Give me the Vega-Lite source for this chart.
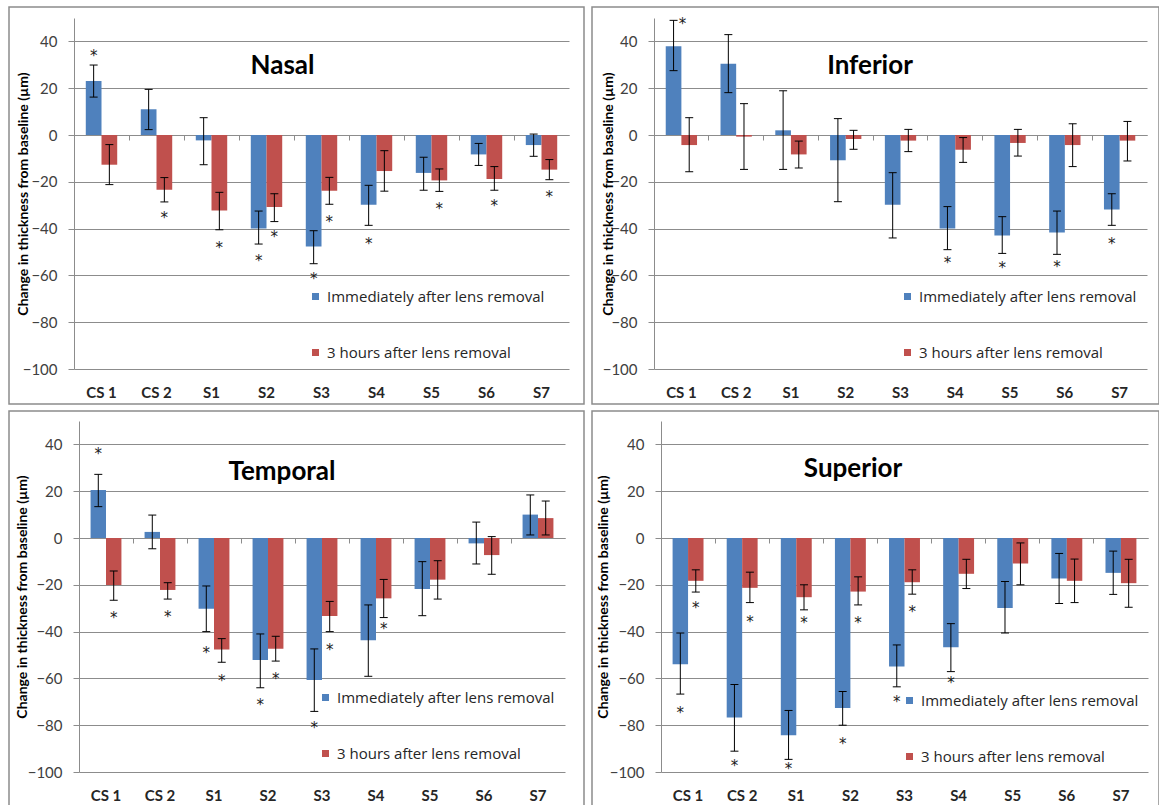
{
  "$schema": "https://vega.github.io/schema/vega-lite/v6.json",
  "padding": {"left": 8, "top": 6, "right": 0, "bottom": 0},
  "background": "white",
  "config": {
    "view": {"stroke": "#8c8c8c", "strokeWidth": 1.5},
    "font": "Lato"
  },
  "datasets": {
    "d": [
      {"region":"Nasal","cat":"CS 1","series":"Immediately after lens removal","value":23.1,"lo":16.2,"hi":29.9,"star":34.8},
      {"region":"Nasal","cat":"CS 1","series":"3 hours after lens removal","value":-12.7,"lo":-21.2,"hi":-4.1,"star":null},
      {"region":"Nasal","cat":"CS 2","series":"Immediately after lens removal","value":11.0,"lo":2.3,"hi":19.5,"star":null},
      {"region":"Nasal","cat":"CS 2","series":"3 hours after lens removal","value":-23.4,"lo":-28.6,"hi":-18.2,"star":-34.8},
      {"region":"Nasal","cat":"S1","series":"Immediately after lens removal","value":-2.3,"lo":-12.7,"hi":7.4,"star":null},
      {"region":"Nasal","cat":"S1","series":"3 hours after lens removal","value":-32.3,"lo":-40.5,"hi":-24.5,"star":-47.4},
      {"region":"Nasal","cat":"S2","series":"Immediately after lens removal","value":-40.0,"lo":-46.6,"hi":-32.5,"star":-53.1},
      {"region":"Nasal","cat":"S2","series":"3 hours after lens removal","value":-30.8,"lo":-37.0,"hi":-25.1,"star":-42.6},
      {"region":"Nasal","cat":"S3","series":"Immediately after lens removal","value":-47.7,"lo":-55.0,"hi":-40.9,"star":-60.5},
      {"region":"Nasal","cat":"S3","series":"3 hours after lens removal","value":-23.8,"lo":-29.6,"hi":-18.1,"star":-36.5},
      {"region":"Nasal","cat":"S4","series":"Immediately after lens removal","value":-29.8,"lo":-38.6,"hi":-21.5,"star":-45.9},
      {"region":"Nasal","cat":"S4","series":"3 hours after lens removal","value":-15.4,"lo":-24.0,"hi":-6.7,"star":null},
      {"region":"Nasal","cat":"S5","series":"Immediately after lens removal","value":-16.2,"lo":-23.6,"hi":-9.5,"star":null},
      {"region":"Nasal","cat":"S5","series":"3 hours after lens removal","value":-19.4,"lo":-24.1,"hi":-14.5,"star":-30.9},
      {"region":"Nasal","cat":"S6","series":"Immediately after lens removal","value":-8.3,"lo":-13.0,"hi":-3.6,"star":null},
      {"region":"Nasal","cat":"S6","series":"3 hours after lens removal","value":-18.8,"lo":-23.6,"hi":-13.5,"star":-29.3},
      {"region":"Nasal","cat":"S7","series":"Immediately after lens removal","value":-4.3,"lo":-9.1,"hi":0.4,"star":null},
      {"region":"Nasal","cat":"S7","series":"3 hours after lens removal","value":-14.8,"lo":-19.1,"hi":-10.5,"star":-25.8},

      {"region":"Inferior","cat":"CS 1","series":"Immediately after lens removal","value":37.9,"lo":27.5,"hi":49.0,"star":null,"starR":48.5},
      {"region":"Inferior","cat":"CS 1","series":"3 hours after lens removal","value":-4.3,"lo":-15.7,"hi":7.4,"star":null},
      {"region":"Inferior","cat":"CS 2","series":"Immediately after lens removal","value":30.5,"lo":18.1,"hi":42.9,"star":null},
      {"region":"Inferior","cat":"CS 2","series":"3 hours after lens removal","value":-0.7,"lo":-14.7,"hi":13.4,"star":null},
      {"region":"Inferior","cat":"S1","series":"Immediately after lens removal","value":2.0,"lo":-14.7,"hi":18.9,"star":null},
      {"region":"Inferior","cat":"S1","series":"3 hours after lens removal","value":-8.3,"lo":-14.1,"hi":-2.6,"star":null},
      {"region":"Inferior","cat":"S2","series":"Immediately after lens removal","value":-10.8,"lo":-28.5,"hi":7.0,"star":null},
      {"region":"Inferior","cat":"S2","series":"3 hours after lens removal","value":-1.7,"lo":-6.1,"hi":2.0,"star":null},
      {"region":"Inferior","cat":"S3","series":"Immediately after lens removal","value":-29.8,"lo":-44.0,"hi":-16.1,"star":null},
      {"region":"Inferior","cat":"S3","series":"3 hours after lens removal","value":-2.4,"lo":-7.1,"hi":2.4,"star":null},
      {"region":"Inferior","cat":"S4","series":"Immediately after lens removal","value":-40.0,"lo":-49.0,"hi":-30.6,"star":-53.8},
      {"region":"Inferior","cat":"S4","series":"3 hours after lens removal","value":-6.3,"lo":-11.7,"hi":-1.1,"star":null},
      {"region":"Inferior","cat":"S5","series":"Immediately after lens removal","value":-42.9,"lo":-50.6,"hi":-34.9,"star":-56.0},
      {"region":"Inferior","cat":"S5","series":"3 hours after lens removal","value":-3.4,"lo":-9.0,"hi":2.4,"star":null},
      {"region":"Inferior","cat":"S6","series":"Immediately after lens removal","value":-41.7,"lo":-51.0,"hi":-32.5,"star":-55.6},
      {"region":"Inferior","cat":"S6","series":"3 hours after lens removal","value":-4.3,"lo":-13.5,"hi":4.8,"star":null},
      {"region":"Inferior","cat":"S7","series":"Immediately after lens removal","value":-31.8,"lo":-38.6,"hi":-25.1,"star":-45.6},
      {"region":"Inferior","cat":"S7","series":"3 hours after lens removal","value":-2.4,"lo":-11.1,"hi":5.8,"star":null},

      {"region":"Temporal","cat":"CS 1","series":"Immediately after lens removal","value":20.5,"lo":13.4,"hi":27.2,"star":36.9},
      {"region":"Temporal","cat":"CS 1","series":"3 hours after lens removal","value":-20.1,"lo":-26.6,"hi":-14.1,"star":-33.3},
      {"region":"Temporal","cat":"CS 2","series":"Immediately after lens removal","value":2.6,"lo":-4.6,"hi":9.8,"star":null},
      {"region":"Temporal","cat":"CS 2","series":"3 hours after lens removal","value":-22.2,"lo":-26.1,"hi":-19.1,"star":-32.8},
      {"region":"Temporal","cat":"S1","series":"Immediately after lens removal","value":-30.2,"lo":-40.0,"hi":-20.5,"star":-48.3},
      {"region":"Temporal","cat":"S1","series":"3 hours after lens removal","value":-47.7,"lo":-53.1,"hi":-43.0,"star":-60.1},
      {"region":"Temporal","cat":"S2","series":"Immediately after lens removal","value":-52.1,"lo":-64.0,"hi":-41.0,"star":-70.7},
      {"region":"Temporal","cat":"S2","series":"3 hours after lens removal","value":-47.3,"lo":-52.6,"hi":-42.0,"star":-59.3},
      {"region":"Temporal","cat":"S3","series":"Immediately after lens removal","value":-60.7,"lo":-74.1,"hi":-47.4,"star":-80.3},
      {"region":"Temporal","cat":"S3","series":"3 hours after lens removal","value":-33.3,"lo":-40.0,"hi":-27.1,"star":-46.9},
      {"region":"Temporal","cat":"S4","series":"Immediately after lens removal","value":-43.7,"lo":-59.1,"hi":-28.6,"star":null},
      {"region":"Temporal","cat":"S4","series":"3 hours after lens removal","value":-25.8,"lo":-34.0,"hi":-17.7,"star":-37.9},
      {"region":"Temporal","cat":"S5","series":"Immediately after lens removal","value":-21.8,"lo":-33.2,"hi":-10.1,"star":null},
      {"region":"Temporal","cat":"S5","series":"3 hours after lens removal","value":-17.8,"lo":-26.1,"hi":-9.7,"star":null},
      {"region":"Temporal","cat":"S6","series":"Immediately after lens removal","value":-2.3,"lo":-11.1,"hi":6.8,"star":null},
      {"region":"Temporal","cat":"S6","series":"3 hours after lens removal","value":-7.3,"lo":-15.5,"hi":0.6,"star":null},
      {"region":"Temporal","cat":"S7","series":"Immediately after lens removal","value":10.0,"lo":1.3,"hi":18.4,"star":null},
      {"region":"Temporal","cat":"S7","series":"3 hours after lens removal","value":8.5,"lo":1.3,"hi":15.8,"star":null},

      {"region":"Superior","cat":"CS 1","series":"Immediately after lens removal","value":-53.9,"lo":-66.7,"hi":-40.6,"star":-73.9},
      {"region":"Superior","cat":"CS 1","series":"3 hours after lens removal","value":-18.3,"lo":-23.1,"hi":-13.6,"star":-29.1},
      {"region":"Superior","cat":"CS 2","series":"Immediately after lens removal","value":-76.7,"lo":-91.1,"hi":-62.6,"star":-96.7},
      {"region":"Superior","cat":"CS 2","series":"3 hours after lens removal","value":-21.3,"lo":-27.6,"hi":-14.6,"star":-34.9},
      {"region":"Superior","cat":"S1","series":"Immediately after lens removal","value":-84.3,"lo":-94.6,"hi":-73.7,"star":-97.9},
      {"region":"Superior","cat":"S1","series":"3 hours after lens removal","value":-25.3,"lo":-30.7,"hi":-20.0,"star":-35.3},
      {"region":"Superior","cat":"S2","series":"Immediately after lens removal","value":-72.7,"lo":-80.0,"hi":-65.6,"star":-87.0},
      {"region":"Superior","cat":"S2","series":"3 hours after lens removal","value":-22.9,"lo":-28.6,"hi":-16.6,"star":-35.3},
      {"region":"Superior","cat":"S3","series":"Immediately after lens removal","value":-54.9,"lo":-63.6,"hi":-45.7,"star":-69.1},
      {"region":"Superior","cat":"S3","series":"3 hours after lens removal","value":-18.9,"lo":-24.0,"hi":-13.6,"star":-30.7},
      {"region":"Superior","cat":"S4","series":"Immediately after lens removal","value":-46.7,"lo":-57.1,"hi":-36.6,"star":-61.3},
      {"region":"Superior","cat":"S4","series":"3 hours after lens removal","value":-15.3,"lo":-21.6,"hi":-9.1,"star":null},
      {"region":"Superior","cat":"S5","series":"Immediately after lens removal","value":-29.9,"lo":-40.6,"hi":-18.6,"star":null},
      {"region":"Superior","cat":"S5","series":"3 hours after lens removal","value":-10.9,"lo":-20.0,"hi":-2.1,"star":null},
      {"region":"Superior","cat":"S6","series":"Immediately after lens removal","value":-17.3,"lo":-28.0,"hi":-6.6,"star":null},
      {"region":"Superior","cat":"S6","series":"3 hours after lens removal","value":-18.3,"lo":-27.6,"hi":-9.0,"star":null},
      {"region":"Superior","cat":"S7","series":"Immediately after lens removal","value":-14.9,"lo":-24.1,"hi":-5.6,"star":null},
      {"region":"Superior","cat":"S7","series":"3 hours after lens removal","value":-19.3,"lo":-29.6,"hi":-9.1,"star":null}
    ]
  },
  "spacing": 5,
  "resolve": {"scale": {"color": "independent", "x": "independent", "y": "independent", "xOffset": "independent"}, "legend": {"color": "independent"}},
  "vconcat": [
    {
      "spacing": 6,
      "resolve": {"scale": {"color": "independent", "x": "independent", "y": "independent", "xOffset": "independent"}, "legend": {"color": "independent"}},
      "hconcat": [
        {
          "width": 575, "height": 397,
          "data": {"name": "d"},
          "transform": [{"filter": "datum.region === 'Nasal'"}],
          "title": {"text": "Nasal", "anchor": "middle", "frame": "group", "dx": -14, "offset": -85, "baseline": "middle", "font": "Lato", "fontSize": 26, "fontWeight": "bold", "color": "#000000"},
          "resolve": {"axis": {"x": "independent"}},
          "layer": [
            {
              "mark": {"type": "bar"},
              "encoding": {
                "x": {"field": "cat", "type": "nominal", "sort": ["CS 1","CS 2","S1","S2","S3","S4","S5","S6","S7"], "scale": {"range": [65, 560], "paddingInner": 0, "paddingOuter": 0}, "axis": {"orient": "bottom", "offset": -35, "title": null, "domain": false, "ticks": false, "tickSize": 0, "labelPadding": 23, "labelBaseline": "middle", "labelAngle": 0, "labelFont": "Lato", "labelFontSize": 15, "labelFontWeight": "bold", "labelColor": "#262626", "grid": false}},
                "xOffset": {"field": "series", "type": "nominal", "sort": ["Immediately after lens removal", "3 hours after lens removal"], "scale": {"paddingInner": 0, "paddingOuter": 0.75}},
                "y": {"field": "value", "type": "quantitative", "scale": {"domain": [-100, 50], "range": [362, 11], "nice": false, "zero": false}, "axis": {"orient": "left", "offset": -65, "values": [-100, -80, -60, -40, -20, 0, 20, 40], "grid": true, "gridColor": "#8c8c8c", "domainColor": "#8c8c8c", "tickColor": "#8c8c8c", "tickSize": 6, "labelPadding": 11, "labelFont": "Lato", "labelFontSize": 15, "labelColor": "#404040", "title": "Change in thickness from baseline (µm)", "titleFont": "Lato", "titleFontSize": 14, "titleFontWeight": "bold", "titleColor": "#000000", "titleAngle": -90, "titleX": -51, "titleY": 186.5, "titleBaseline": "middle", "titleAlign": "center"}},
                "color": {"field": "series", "type": "nominal", "sort": ["Immediately after lens removal", "3 hours after lens removal"], "scale": {"domain": ["Immediately after lens removal", "3 hours after lens removal"], "range": ["#4F81BD", "#C0504D"]}, "legend": {"orient": "none", "legendX": 299, "legendY": 282, "title": null, "direction": "vertical", "symbolType": "square", "symbolSize": 49, "symbolStrokeWidth": 0, "labelFont": "Open Sans", "labelFontSize": 15, "labelColor": "#262626", "labelOffset": 4, "labelLimit": 0, "rowPadding": 40, "padding": 0}}
              }
            },
            {
              "mark": {"type": "rule", "color": "#000000", "strokeWidth": 1},
              "encoding": {
                "x": {"field": "cat", "type": "nominal", "sort": ["CS 1","CS 2","S1","S2","S3","S4","S5","S6","S7"], "axis": {"orient": "bottom", "offset": -269, "labels": false, "title": null, "domain": true, "domainColor": "#8c8c8c", "ticks": true, "tickColor": "#8c8c8c", "tickSize": 5, "bandPosition": 0, "grid": false}},
                "xOffset": {"field": "series", "type": "nominal", "sort": ["Immediately after lens removal", "3 hours after lens removal"]},
                "y": {"field": "lo", "type": "quantitative", "scale": {"domain": [-100, 50], "range": [362, 11], "nice": false, "zero": false}, "axis": {"orient": "left", "offset": -65, "values": [-100, -80, -60, -40, -20, 0, 20, 40], "grid": true, "gridColor": "#8c8c8c", "domainColor": "#8c8c8c", "tickColor": "#8c8c8c", "tickSize": 6, "labelPadding": 11, "labelFont": "Lato", "labelFontSize": 15, "labelColor": "#404040", "title": "Change in thickness from baseline (µm)", "titleFont": "Lato", "titleFontSize": 14, "titleFontWeight": "bold", "titleColor": "#000000", "titleAngle": -90, "titleX": -51, "titleY": 186.5, "titleBaseline": "middle", "titleAlign": "center"}},
                "y2": {"field": "hi"}
              }
            },
            {
              "mark": {"type": "tick", "color": "#000000", "thickness": 1, "size": 8, "opacity": 1, "orient": "horizontal"},
              "encoding": {
                "x": {"field": "cat", "type": "nominal", "sort": ["CS 1","CS 2","S1","S2","S3","S4","S5","S6","S7"], "axis": null},
                "xOffset": {"field": "series", "type": "nominal", "sort": ["Immediately after lens removal", "3 hours after lens removal"]},
                "y": {"field": "lo", "type": "quantitative", "scale": {"domain": [-100, 50], "range": [362, 11], "nice": false, "zero": false}, "axis": {"orient": "left", "offset": -65, "values": [-100, -80, -60, -40, -20, 0, 20, 40], "grid": true, "gridColor": "#8c8c8c", "domainColor": "#8c8c8c", "tickColor": "#8c8c8c", "tickSize": 6, "labelPadding": 11, "labelFont": "Lato", "labelFontSize": 15, "labelColor": "#404040", "title": "Change in thickness from baseline (µm)", "titleFont": "Lato", "titleFontSize": 14, "titleFontWeight": "bold", "titleColor": "#000000", "titleAngle": -90, "titleX": -51, "titleY": 186.5, "titleBaseline": "middle", "titleAlign": "center"}}
              }
            },
            {
              "mark": {"type": "tick", "color": "#000000", "thickness": 1, "size": 8, "opacity": 1, "orient": "horizontal"},
              "encoding": {
                "x": {"field": "cat", "type": "nominal", "sort": ["CS 1","CS 2","S1","S2","S3","S4","S5","S6","S7"], "axis": null},
                "xOffset": {"field": "series", "type": "nominal", "sort": ["Immediately after lens removal", "3 hours after lens removal"]},
                "y": {"field": "hi", "type": "quantitative", "scale": {"domain": [-100, 50], "range": [362, 11], "nice": false, "zero": false}, "axis": {"orient": "left", "offset": -65, "values": [-100, -80, -60, -40, -20, 0, 20, 40], "grid": true, "gridColor": "#8c8c8c", "domainColor": "#8c8c8c", "tickColor": "#8c8c8c", "tickSize": 6, "labelPadding": 11, "labelFont": "Lato", "labelFontSize": 15, "labelColor": "#404040", "title": "Change in thickness from baseline (µm)", "titleFont": "Lato", "titleFontSize": 14, "titleFontWeight": "bold", "titleColor": "#000000", "titleAngle": -90, "titleX": -51, "titleY": 186.5, "titleBaseline": "middle", "titleAlign": "center"}}
              }
            },
            {
              "transform": [{"filter": "isValid(datum.star)"}],
              "mark": {"type": "text", "text": "*", "font": "DejaVu Sans", "fontSize": 15, "color": "#1a1a1a", "baseline": "middle", "dy": 2},
              "encoding": {
                "x": {"field": "cat", "type": "nominal", "sort": ["CS 1","CS 2","S1","S2","S3","S4","S5","S6","S7"], "axis": null},
                "xOffset": {"field": "series", "type": "nominal", "sort": ["Immediately after lens removal", "3 hours after lens removal"]},
                "y": {"field": "star", "type": "quantitative", "scale": {"domain": [-100, 50], "range": [362, 11], "nice": false, "zero": false}, "axis": {"orient": "left", "offset": -65, "values": [-100, -80, -60, -40, -20, 0, 20, 40], "grid": true, "gridColor": "#8c8c8c", "domainColor": "#8c8c8c", "tickColor": "#8c8c8c", "tickSize": 6, "labelPadding": 11, "labelFont": "Lato", "labelFontSize": 15, "labelColor": "#404040", "title": "Change in thickness from baseline (µm)", "titleFont": "Lato", "titleFontSize": 14, "titleFontWeight": "bold", "titleColor": "#000000", "titleAngle": -90, "titleX": -51, "titleY": 186.5, "titleBaseline": "middle", "titleAlign": "center"}}
              }
            }
          ]
        },
        {
          "width": 567, "height": 397,
          "data": {"name": "d"},
          "transform": [{"filter": "datum.region === 'Inferior'"}],
          "title": {"text": "Inferior", "anchor": "middle", "frame": "group", "dx": -5.5, "offset": -85, "baseline": "middle", "font": "Lato", "fontSize": 26, "fontWeight": "bold", "color": "#000000"},
          "resolve": {"axis": {"x": "independent"}},
          "layer": [
            {
              "mark": {"type": "bar"},
              "encoding": {
                "x": {"field": "cat", "type": "nominal", "sort": ["CS 1","CS 2","S1","S2","S3","S4","S5","S6","S7"], "scale": {"range": [62, 555], "paddingInner": 0, "paddingOuter": 0}, "axis": {"orient": "bottom", "offset": -35, "title": null, "domain": false, "ticks": false, "tickSize": 0, "labelPadding": 23, "labelBaseline": "middle", "labelAngle": 0, "labelFont": "Lato", "labelFontSize": 15, "labelFontWeight": "bold", "labelColor": "#262626", "grid": false}},
                "xOffset": {"field": "series", "type": "nominal", "sort": ["Immediately after lens removal", "3 hours after lens removal"], "scale": {"paddingInner": 0, "paddingOuter": 0.75}},
                "y": {"field": "value", "type": "quantitative", "scale": {"domain": [-100, 50], "range": [362, 11], "nice": false, "zero": false}, "axis": {"orient": "left", "offset": -62, "values": [-100, -80, -60, -40, -20, 0, 20, 40], "grid": true, "gridColor": "#8c8c8c", "domainColor": "#8c8c8c", "tickColor": "#8c8c8c", "tickSize": 6, "labelPadding": 11, "labelFont": "Lato", "labelFontSize": 15, "labelColor": "#404040", "title": "Change in thickness from baseline (µm)", "titleFont": "Lato", "titleFontSize": 14, "titleFontWeight": "bold", "titleColor": "#000000", "titleAngle": -90, "titleX": -46, "titleY": 186.5, "titleBaseline": "middle", "titleAlign": "center"}},
                "color": {"field": "series", "type": "nominal", "sort": ["Immediately after lens removal", "3 hours after lens removal"], "scale": {"domain": ["Immediately after lens removal", "3 hours after lens removal"], "range": ["#4F81BD", "#C0504D"]}, "legend": {"orient": "none", "legendX": 308, "legendY": 282, "title": null, "direction": "vertical", "symbolType": "square", "symbolSize": 49, "symbolStrokeWidth": 0, "labelFont": "Open Sans", "labelFontSize": 15, "labelColor": "#262626", "labelOffset": 4, "labelLimit": 0, "rowPadding": 40, "padding": 0}}
              }
            },
            {
              "mark": {"type": "rule", "color": "#000000", "strokeWidth": 1},
              "encoding": {
                "x": {"field": "cat", "type": "nominal", "sort": ["CS 1","CS 2","S1","S2","S3","S4","S5","S6","S7"], "axis": {"orient": "bottom", "offset": -269, "labels": false, "title": null, "domain": true, "domainColor": "#8c8c8c", "ticks": true, "tickColor": "#8c8c8c", "tickSize": 5, "bandPosition": 0, "grid": false}},
                "xOffset": {"field": "series", "type": "nominal", "sort": ["Immediately after lens removal", "3 hours after lens removal"]},
                "y": {"field": "lo", "type": "quantitative", "scale": {"domain": [-100, 50], "range": [362, 11], "nice": false, "zero": false}, "axis": {"orient": "left", "offset": -62, "values": [-100, -80, -60, -40, -20, 0, 20, 40], "grid": true, "gridColor": "#8c8c8c", "domainColor": "#8c8c8c", "tickColor": "#8c8c8c", "tickSize": 6, "labelPadding": 11, "labelFont": "Lato", "labelFontSize": 15, "labelColor": "#404040", "title": "Change in thickness from baseline (µm)", "titleFont": "Lato", "titleFontSize": 14, "titleFontWeight": "bold", "titleColor": "#000000", "titleAngle": -90, "titleX": -46, "titleY": 186.5, "titleBaseline": "middle", "titleAlign": "center"}},
                "y2": {"field": "hi"}
              }
            },
            {
              "mark": {"type": "tick", "color": "#000000", "thickness": 1, "size": 8, "opacity": 1, "orient": "horizontal"},
              "encoding": {
                "x": {"field": "cat", "type": "nominal", "sort": ["CS 1","CS 2","S1","S2","S3","S4","S5","S6","S7"], "axis": null},
                "xOffset": {"field": "series", "type": "nominal", "sort": ["Immediately after lens removal", "3 hours after lens removal"]},
                "y": {"field": "lo", "type": "quantitative", "scale": {"domain": [-100, 50], "range": [362, 11], "nice": false, "zero": false}, "axis": {"orient": "left", "offset": -62, "values": [-100, -80, -60, -40, -20, 0, 20, 40], "grid": true, "gridColor": "#8c8c8c", "domainColor": "#8c8c8c", "tickColor": "#8c8c8c", "tickSize": 6, "labelPadding": 11, "labelFont": "Lato", "labelFontSize": 15, "labelColor": "#404040", "title": "Change in thickness from baseline (µm)", "titleFont": "Lato", "titleFontSize": 14, "titleFontWeight": "bold", "titleColor": "#000000", "titleAngle": -90, "titleX": -46, "titleY": 186.5, "titleBaseline": "middle", "titleAlign": "center"}}
              }
            },
            {
              "mark": {"type": "tick", "color": "#000000", "thickness": 1, "size": 8, "opacity": 1, "orient": "horizontal"},
              "encoding": {
                "x": {"field": "cat", "type": "nominal", "sort": ["CS 1","CS 2","S1","S2","S3","S4","S5","S6","S7"], "axis": null},
                "xOffset": {"field": "series", "type": "nominal", "sort": ["Immediately after lens removal", "3 hours after lens removal"]},
                "y": {"field": "hi", "type": "quantitative", "scale": {"domain": [-100, 50], "range": [362, 11], "nice": false, "zero": false}, "axis": {"orient": "left", "offset": -62, "values": [-100, -80, -60, -40, -20, 0, 20, 40], "grid": true, "gridColor": "#8c8c8c", "domainColor": "#8c8c8c", "tickColor": "#8c8c8c", "tickSize": 6, "labelPadding": 11, "labelFont": "Lato", "labelFontSize": 15, "labelColor": "#404040", "title": "Change in thickness from baseline (µm)", "titleFont": "Lato", "titleFontSize": 14, "titleFontWeight": "bold", "titleColor": "#000000", "titleAngle": -90, "titleX": -46, "titleY": 186.5, "titleBaseline": "middle", "titleAlign": "center"}}
              }
            },
            {
              "transform": [{"filter": "isValid(datum.star)"}],
              "mark": {"type": "text", "text": "*", "font": "DejaVu Sans", "fontSize": 15, "color": "#1a1a1a", "baseline": "middle", "dy": 2},
              "encoding": {
                "x": {"field": "cat", "type": "nominal", "sort": ["CS 1","CS 2","S1","S2","S3","S4","S5","S6","S7"], "axis": null},
                "xOffset": {"field": "series", "type": "nominal", "sort": ["Immediately after lens removal", "3 hours after lens removal"]},
                "y": {"field": "star", "type": "quantitative", "scale": {"domain": [-100, 50], "range": [362, 11], "nice": false, "zero": false}, "axis": {"orient": "left", "offset": -62, "values": [-100, -80, -60, -40, -20, 0, 20, 40], "grid": true, "gridColor": "#8c8c8c", "domainColor": "#8c8c8c", "tickColor": "#8c8c8c", "tickSize": 6, "labelPadding": 11, "labelFont": "Lato", "labelFontSize": 15, "labelColor": "#404040", "title": "Change in thickness from baseline (µm)", "titleFont": "Lato", "titleFontSize": 14, "titleFontWeight": "bold", "titleColor": "#000000", "titleAngle": -90, "titleX": -46, "titleY": 186.5, "titleBaseline": "middle", "titleAlign": "center"}}
              }
            },
            {
              "transform": [{"filter": "isValid(datum.starR)"}],
              "mark": {"type": "text", "text": "*", "font": "DejaVu Sans", "fontSize": 15, "color": "#1a1a1a", "baseline": "middle", "dy": 2, "dx": 9},
              "encoding": {
                "x": {"field": "cat", "type": "nominal", "sort": ["CS 1","CS 2","S1","S2","S3","S4","S5","S6","S7"], "axis": null},
                "xOffset": {"field": "series", "type": "nominal", "sort": ["Immediately after lens removal", "3 hours after lens removal"]},
                "y": {"field": "starR", "type": "quantitative", "scale": {"domain": [-100, 50], "range": [362, 11], "nice": false, "zero": false}, "axis": {"orient": "left", "offset": -62, "values": [-100, -80, -60, -40, -20, 0, 20, 40], "grid": true, "gridColor": "#8c8c8c", "domainColor": "#8c8c8c", "tickColor": "#8c8c8c", "tickSize": 6, "labelPadding": 11, "labelFont": "Lato", "labelFontSize": 15, "labelColor": "#404040", "title": "Change in thickness from baseline (µm)", "titleFont": "Lato", "titleFontSize": 14, "titleFontWeight": "bold", "titleColor": "#000000", "titleAngle": -90, "titleX": -46, "titleY": 186.5, "titleBaseline": "middle", "titleAlign": "center"}}
              }
            }
          ]
        }
      ]
    },
    {
      "spacing": 6,
      "resolve": {"scale": {"color": "independent", "x": "independent", "y": "independent", "xOffset": "independent"}, "legend": {"color": "independent"}},
      "hconcat": [
        {
          "width": 575, "height": 397,
          "data": {"name": "d"},
          "transform": [{"filter": "datum.region === 'Temporal'"}],
          "title": {"text": "Temporal", "anchor": "middle", "frame": "group", "dx": -14.5, "offset": -87, "baseline": "middle", "font": "Lato", "fontSize": 26, "fontWeight": "bold", "color": "#000000"},
          "resolve": {"axis": {"x": "independent"}},
          "layer": [
            {
              "mark": {"type": "bar"},
              "encoding": {
                "x": {"field": "cat", "type": "nominal", "sort": ["CS 1","CS 2","S1","S2","S3","S4","S5","S6","S7"], "scale": {"range": [70, 556], "paddingInner": 0, "paddingOuter": 0}, "axis": {"orient": "bottom", "offset": -36, "title": null, "domain": false, "ticks": false, "tickSize": 0, "labelPadding": 23, "labelBaseline": "middle", "labelAngle": 0, "labelFont": "Lato", "labelFontSize": 15, "labelFontWeight": "bold", "labelColor": "#262626", "grid": false}},
                "xOffset": {"field": "series", "type": "nominal", "sort": ["Immediately after lens removal", "3 hours after lens removal"], "scale": {"paddingInner": 0, "paddingOuter": 0.75}},
                "y": {"field": "value", "type": "quantitative", "scale": {"domain": [-100, 50], "range": [361, 10], "nice": false, "zero": false}, "axis": {"orient": "left", "offset": -70, "values": [-100, -80, -60, -40, -20, 0, 20, 40], "grid": true, "gridColor": "#8c8c8c", "domainColor": "#8c8c8c", "tickColor": "#8c8c8c", "tickSize": 6, "labelPadding": 11, "labelFont": "Lato", "labelFontSize": 15, "labelColor": "#404040", "title": "Change in thickness from baseline (µm)", "titleFont": "Lato", "titleFontSize": 14, "titleFontWeight": "bold", "titleColor": "#000000", "titleAngle": -90, "titleX": -56.5, "titleY": 185.5, "titleBaseline": "middle", "titleAlign": "center"}},
                "color": {"field": "series", "type": "nominal", "sort": ["Immediately after lens removal", "3 hours after lens removal"], "scale": {"domain": ["Immediately after lens removal", "3 hours after lens removal"], "range": ["#4F81BD", "#C0504D"]}, "legend": {"orient": "none", "legendX": 309, "legendY": 279, "title": null, "direction": "vertical", "symbolType": "square", "symbolSize": 49, "symbolStrokeWidth": 0, "labelFont": "Open Sans", "labelFontSize": 15, "labelColor": "#262626", "labelOffset": 4, "labelLimit": 0, "rowPadding": 40, "padding": 0}}
              }
            },
            {
              "mark": {"type": "rule", "color": "#000000", "strokeWidth": 1},
              "encoding": {
                "x": {"field": "cat", "type": "nominal", "sort": ["CS 1","CS 2","S1","S2","S3","S4","S5","S6","S7"], "axis": {"orient": "bottom", "offset": -270, "labels": false, "title": null, "domain": true, "domainColor": "#8c8c8c", "ticks": true, "tickColor": "#8c8c8c", "tickSize": 5, "bandPosition": 0, "grid": false}},
                "xOffset": {"field": "series", "type": "nominal", "sort": ["Immediately after lens removal", "3 hours after lens removal"]},
                "y": {"field": "lo", "type": "quantitative", "scale": {"domain": [-100, 50], "range": [361, 10], "nice": false, "zero": false}, "axis": {"orient": "left", "offset": -70, "values": [-100, -80, -60, -40, -20, 0, 20, 40], "grid": true, "gridColor": "#8c8c8c", "domainColor": "#8c8c8c", "tickColor": "#8c8c8c", "tickSize": 6, "labelPadding": 11, "labelFont": "Lato", "labelFontSize": 15, "labelColor": "#404040", "title": "Change in thickness from baseline (µm)", "titleFont": "Lato", "titleFontSize": 14, "titleFontWeight": "bold", "titleColor": "#000000", "titleAngle": -90, "titleX": -56.5, "titleY": 185.5, "titleBaseline": "middle", "titleAlign": "center"}},
                "y2": {"field": "hi"}
              }
            },
            {
              "mark": {"type": "tick", "color": "#000000", "thickness": 1, "size": 8, "opacity": 1, "orient": "horizontal"},
              "encoding": {
                "x": {"field": "cat", "type": "nominal", "sort": ["CS 1","CS 2","S1","S2","S3","S4","S5","S6","S7"], "axis": null},
                "xOffset": {"field": "series", "type": "nominal", "sort": ["Immediately after lens removal", "3 hours after lens removal"]},
                "y": {"field": "lo", "type": "quantitative", "scale": {"domain": [-100, 50], "range": [361, 10], "nice": false, "zero": false}, "axis": {"orient": "left", "offset": -70, "values": [-100, -80, -60, -40, -20, 0, 20, 40], "grid": true, "gridColor": "#8c8c8c", "domainColor": "#8c8c8c", "tickColor": "#8c8c8c", "tickSize": 6, "labelPadding": 11, "labelFont": "Lato", "labelFontSize": 15, "labelColor": "#404040", "title": "Change in thickness from baseline (µm)", "titleFont": "Lato", "titleFontSize": 14, "titleFontWeight": "bold", "titleColor": "#000000", "titleAngle": -90, "titleX": -56.5, "titleY": 185.5, "titleBaseline": "middle", "titleAlign": "center"}}
              }
            },
            {
              "mark": {"type": "tick", "color": "#000000", "thickness": 1, "size": 8, "opacity": 1, "orient": "horizontal"},
              "encoding": {
                "x": {"field": "cat", "type": "nominal", "sort": ["CS 1","CS 2","S1","S2","S3","S4","S5","S6","S7"], "axis": null},
                "xOffset": {"field": "series", "type": "nominal", "sort": ["Immediately after lens removal", "3 hours after lens removal"]},
                "y": {"field": "hi", "type": "quantitative", "scale": {"domain": [-100, 50], "range": [361, 10], "nice": false, "zero": false}, "axis": {"orient": "left", "offset": -70, "values": [-100, -80, -60, -40, -20, 0, 20, 40], "grid": true, "gridColor": "#8c8c8c", "domainColor": "#8c8c8c", "tickColor": "#8c8c8c", "tickSize": 6, "labelPadding": 11, "labelFont": "Lato", "labelFontSize": 15, "labelColor": "#404040", "title": "Change in thickness from baseline (µm)", "titleFont": "Lato", "titleFontSize": 14, "titleFontWeight": "bold", "titleColor": "#000000", "titleAngle": -90, "titleX": -56.5, "titleY": 185.5, "titleBaseline": "middle", "titleAlign": "center"}}
              }
            },
            {
              "transform": [{"filter": "isValid(datum.star)"}],
              "mark": {"type": "text", "text": "*", "font": "DejaVu Sans", "fontSize": 15, "color": "#1a1a1a", "baseline": "middle", "dy": 2},
              "encoding": {
                "x": {"field": "cat", "type": "nominal", "sort": ["CS 1","CS 2","S1","S2","S3","S4","S5","S6","S7"], "axis": null},
                "xOffset": {"field": "series", "type": "nominal", "sort": ["Immediately after lens removal", "3 hours after lens removal"]},
                "y": {"field": "star", "type": "quantitative", "scale": {"domain": [-100, 50], "range": [361, 10], "nice": false, "zero": false}, "axis": {"orient": "left", "offset": -70, "values": [-100, -80, -60, -40, -20, 0, 20, 40], "grid": true, "gridColor": "#8c8c8c", "domainColor": "#8c8c8c", "tickColor": "#8c8c8c", "tickSize": 6, "labelPadding": 11, "labelFont": "Lato", "labelFontSize": 15, "labelColor": "#404040", "title": "Change in thickness from baseline (µm)", "titleFont": "Lato", "titleFontSize": 14, "titleFontWeight": "bold", "titleColor": "#000000", "titleAngle": -90, "titleX": -56.5, "titleY": 185.5, "titleBaseline": "middle", "titleAlign": "center"}}
              }
            }
          ]
        },
        {
          "width": 567, "height": 397,
          "data": {"name": "d"},
          "transform": [{"filter": "datum.region === 'Superior'"}],
          "title": {"text": "Superior", "anchor": "middle", "frame": "group", "dx": -22.5, "offset": -84, "baseline": "middle", "font": "Lato", "fontSize": 26, "fontWeight": "bold", "color": "#000000"},
          "resolve": {"axis": {"x": "independent"}},
          "layer": [
            {
              "mark": {"type": "bar"},
              "encoding": {
                "x": {"field": "cat", "type": "nominal", "sort": ["CS 1","CS 2","S1","S2","S3","S4","S5","S6","S7"], "scale": {"range": [69, 556], "paddingInner": 0, "paddingOuter": 0}, "axis": {"orient": "bottom", "offset": -36, "title": null, "domain": false, "ticks": false, "tickSize": 0, "labelPadding": 23, "labelBaseline": "middle", "labelAngle": 0, "labelFont": "Lato", "labelFontSize": 15, "labelFontWeight": "bold", "labelColor": "#262626", "grid": false}},
                "xOffset": {"field": "series", "type": "nominal", "sort": ["Immediately after lens removal", "3 hours after lens removal"], "scale": {"paddingInner": 0, "paddingOuter": 0.75}},
                "y": {"field": "value", "type": "quantitative", "scale": {"domain": [-100, 50], "range": [361, 10], "nice": false, "zero": false}, "axis": {"orient": "left", "offset": -69, "values": [-100, -80, -60, -40, -20, 0, 20, 40], "grid": true, "gridColor": "#8c8c8c", "domainColor": "#8c8c8c", "tickColor": "#8c8c8c", "tickSize": 6, "labelPadding": 11, "labelFont": "Lato", "labelFontSize": 15, "labelColor": "#404040", "title": "Change in thickness from baseline (µm)", "titleFont": "Lato", "titleFontSize": 14, "titleFontWeight": "bold", "titleColor": "#000000", "titleAngle": -90, "titleX": -58, "titleY": 185.5, "titleBaseline": "middle", "titleAlign": "center"}},
                "color": {"field": "series", "type": "nominal", "sort": ["Immediately after lens removal", "3 hours after lens removal"], "scale": {"domain": ["Immediately after lens removal", "3 hours after lens removal"], "range": ["#4F81BD", "#C0504D"]}, "legend": {"orient": "none", "legendX": 310, "legendY": 282, "title": null, "direction": "vertical", "symbolType": "square", "symbolSize": 49, "symbolStrokeWidth": 0, "labelFont": "Open Sans", "labelFontSize": 15, "labelColor": "#262626", "labelOffset": 4, "labelLimit": 0, "rowPadding": 40, "padding": 0}}
              }
            },
            {
              "mark": {"type": "rule", "color": "#000000", "strokeWidth": 1},
              "encoding": {
                "x": {"field": "cat", "type": "nominal", "sort": ["CS 1","CS 2","S1","S2","S3","S4","S5","S6","S7"], "axis": {"orient": "bottom", "offset": -270, "labels": false, "title": null, "domain": true, "domainColor": "#8c8c8c", "ticks": true, "tickColor": "#8c8c8c", "tickSize": 5, "bandPosition": 0, "grid": false}},
                "xOffset": {"field": "series", "type": "nominal", "sort": ["Immediately after lens removal", "3 hours after lens removal"]},
                "y": {"field": "lo", "type": "quantitative", "scale": {"domain": [-100, 50], "range": [361, 10], "nice": false, "zero": false}, "axis": {"orient": "left", "offset": -69, "values": [-100, -80, -60, -40, -20, 0, 20, 40], "grid": true, "gridColor": "#8c8c8c", "domainColor": "#8c8c8c", "tickColor": "#8c8c8c", "tickSize": 6, "labelPadding": 11, "labelFont": "Lato", "labelFontSize": 15, "labelColor": "#404040", "title": "Change in thickness from baseline (µm)", "titleFont": "Lato", "titleFontSize": 14, "titleFontWeight": "bold", "titleColor": "#000000", "titleAngle": -90, "titleX": -58, "titleY": 185.5, "titleBaseline": "middle", "titleAlign": "center"}},
                "y2": {"field": "hi"}
              }
            },
            {
              "mark": {"type": "tick", "color": "#000000", "thickness": 1, "size": 8, "opacity": 1, "orient": "horizontal"},
              "encoding": {
                "x": {"field": "cat", "type": "nominal", "sort": ["CS 1","CS 2","S1","S2","S3","S4","S5","S6","S7"], "axis": null},
                "xOffset": {"field": "series", "type": "nominal", "sort": ["Immediately after lens removal", "3 hours after lens removal"]},
                "y": {"field": "lo", "type": "quantitative", "scale": {"domain": [-100, 50], "range": [361, 10], "nice": false, "zero": false}, "axis": {"orient": "left", "offset": -69, "values": [-100, -80, -60, -40, -20, 0, 20, 40], "grid": true, "gridColor": "#8c8c8c", "domainColor": "#8c8c8c", "tickColor": "#8c8c8c", "tickSize": 6, "labelPadding": 11, "labelFont": "Lato", "labelFontSize": 15, "labelColor": "#404040", "title": "Change in thickness from baseline (µm)", "titleFont": "Lato", "titleFontSize": 14, "titleFontWeight": "bold", "titleColor": "#000000", "titleAngle": -90, "titleX": -58, "titleY": 185.5, "titleBaseline": "middle", "titleAlign": "center"}}
              }
            },
            {
              "mark": {"type": "tick", "color": "#000000", "thickness": 1, "size": 8, "opacity": 1, "orient": "horizontal"},
              "encoding": {
                "x": {"field": "cat", "type": "nominal", "sort": ["CS 1","CS 2","S1","S2","S3","S4","S5","S6","S7"], "axis": null},
                "xOffset": {"field": "series", "type": "nominal", "sort": ["Immediately after lens removal", "3 hours after lens removal"]},
                "y": {"field": "hi", "type": "quantitative", "scale": {"domain": [-100, 50], "range": [361, 10], "nice": false, "zero": false}, "axis": {"orient": "left", "offset": -69, "values": [-100, -80, -60, -40, -20, 0, 20, 40], "grid": true, "gridColor": "#8c8c8c", "domainColor": "#8c8c8c", "tickColor": "#8c8c8c", "tickSize": 6, "labelPadding": 11, "labelFont": "Lato", "labelFontSize": 15, "labelColor": "#404040", "title": "Change in thickness from baseline (µm)", "titleFont": "Lato", "titleFontSize": 14, "titleFontWeight": "bold", "titleColor": "#000000", "titleAngle": -90, "titleX": -58, "titleY": 185.5, "titleBaseline": "middle", "titleAlign": "center"}}
              }
            },
            {
              "transform": [{"filter": "isValid(datum.star)"}],
              "mark": {"type": "text", "text": "*", "font": "DejaVu Sans", "fontSize": 15, "color": "#1a1a1a", "baseline": "middle", "dy": 2},
              "encoding": {
                "x": {"field": "cat", "type": "nominal", "sort": ["CS 1","CS 2","S1","S2","S3","S4","S5","S6","S7"], "axis": null},
                "xOffset": {"field": "series", "type": "nominal", "sort": ["Immediately after lens removal", "3 hours after lens removal"]},
                "y": {"field": "star", "type": "quantitative", "scale": {"domain": [-100, 50], "range": [361, 10], "nice": false, "zero": false}, "axis": {"orient": "left", "offset": -69, "values": [-100, -80, -60, -40, -20, 0, 20, 40], "grid": true, "gridColor": "#8c8c8c", "domainColor": "#8c8c8c", "tickColor": "#8c8c8c", "tickSize": 6, "labelPadding": 11, "labelFont": "Lato", "labelFontSize": 15, "labelColor": "#404040", "title": "Change in thickness from baseline (µm)", "titleFont": "Lato", "titleFontSize": 14, "titleFontWeight": "bold", "titleColor": "#000000", "titleAngle": -90, "titleX": -58, "titleY": 185.5, "titleBaseline": "middle", "titleAlign": "center"}}
              }
            }
          ]
        }
      ]
    }
  ]
}
